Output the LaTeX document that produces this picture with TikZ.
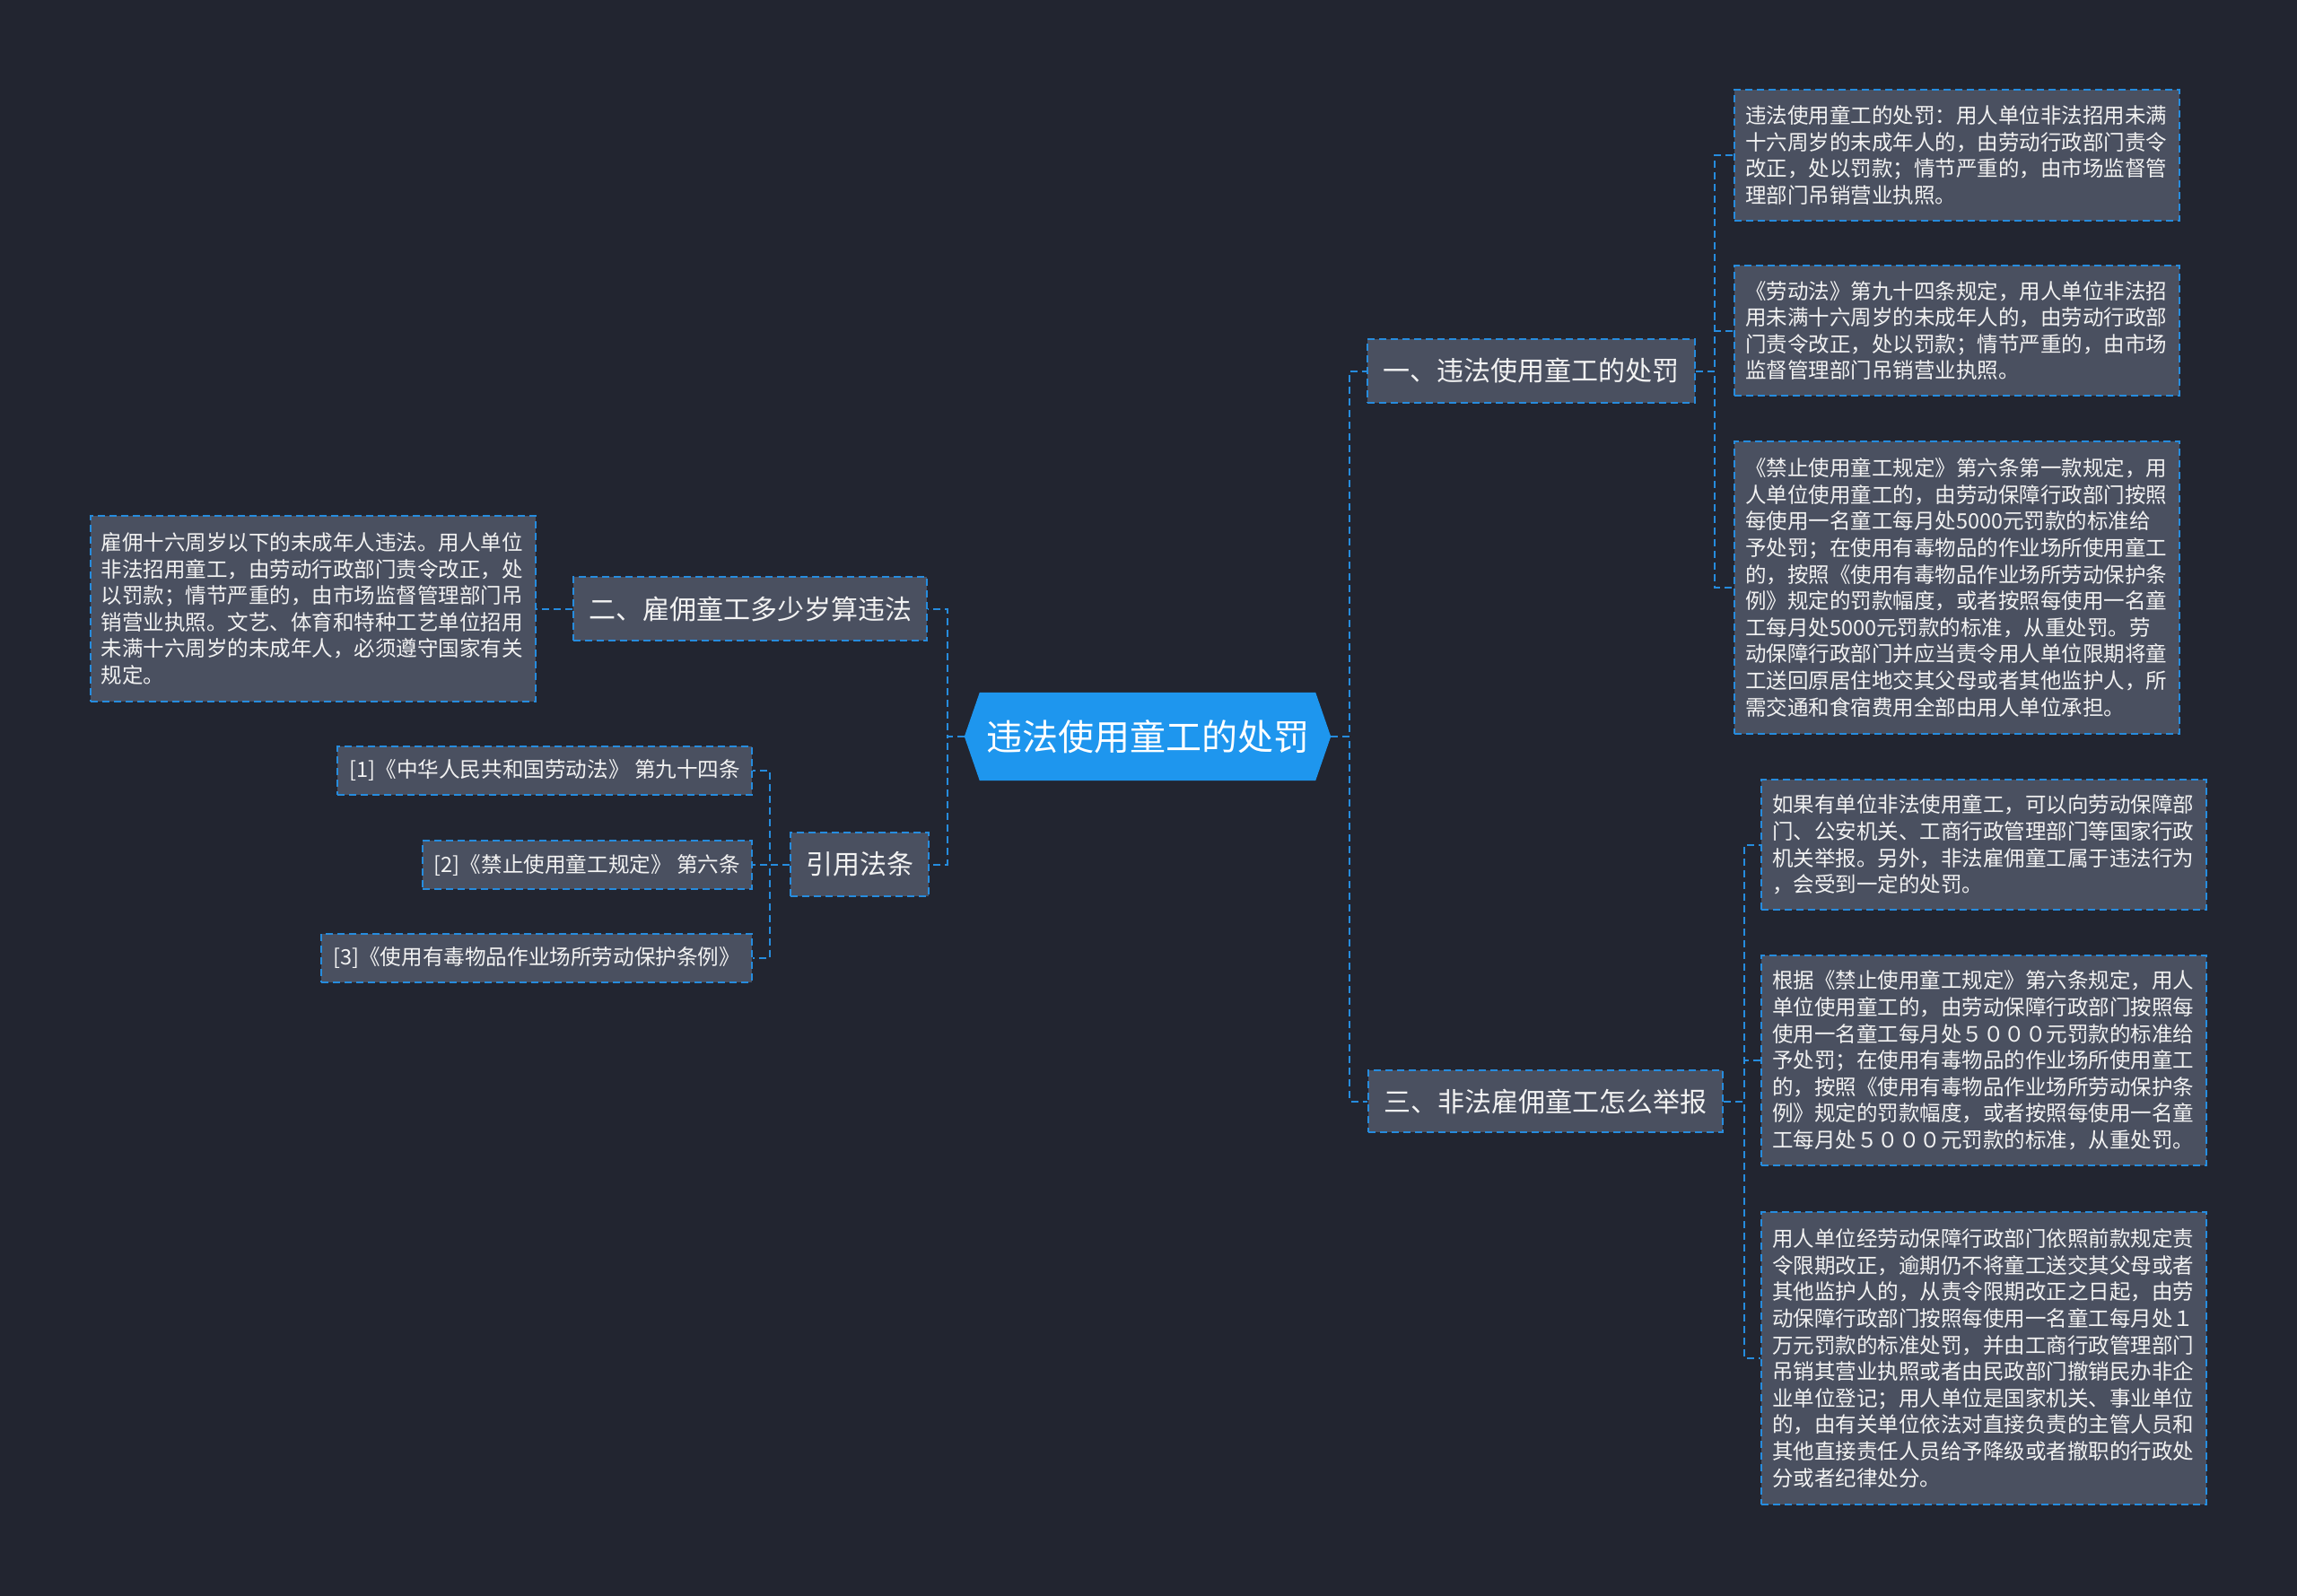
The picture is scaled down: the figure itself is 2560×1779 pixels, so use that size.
\documentclass[tikz,border=0pt]{standalone}
\usepackage{fontspec}
\setmainfont{Noto Sans CJK SC}
\usetikzlibrary{calc}
\definecolor{pagebg}{RGB}{34,37,48}
\definecolor{boxfill}{RGB}{74,80,96}
\definecolor{dashblue}{RGB}{38,140,222}
\definecolor{hubblue}{RGB}{30,150,238}
\definecolor{txt}{RGB}{242,242,242}
\pgfdeclarelayer{bg}
\pgfsetlayers{bg,main}
\tikzset{
  boxbase/.style={draw=dashblue, fill=boxfill, line width=2pt, dash pattern=on 8pt off 5pt, text=txt, inner sep=0pt},
  branchbox/.style={boxbase, font=\fontsize{30}{36}\selectfont, minimum height=71pt, inner xsep=17pt},
  wideleaf/.style={boxbase, align=left, inner xsep=12pt, font=\fontsize{23.5}{29.6}\selectfont, text width=472pt},
  refbox/.style={boxbase, anchor=east, inner xsep=13pt, minimum height=54pt, font=\fontsize{23.6}{28}\selectfont},
  hub/.style={text=white, font=\fontsize{40}{48}\selectfont, minimum width=408pt, minimum height=98pt, inner sep=0pt},
  conn/.style={draw=dashblue, line width=2pt, dash pattern=on 8pt off 5pt}
}
\begin{document}
\begin{tikzpicture}[x=1pt,y=-1pt]
\useasboundingbox (0,0) rectangle (2560,1779);
% centre
\node[hub] (c) at (1279,821) {违法使用童工的处罚};
% branches
\node[branchbox, minimum width=365pt] (b1) at (1706.5,413.5) {一、违法使用童工的处罚};
\node[branchbox, minimum width=394pt] (b2) at (836,678.5) {二、雇佣童工多少岁算违法};
\node[branchbox, minimum width=152pt] (b3) at (958,963.5) {引用法条};
\node[branchbox, minimum width=395pt, minimum height=69pt] (b4) at (1722.5,1227.5) {三、非法雇佣童工怎么举报};
% leaves of b1
\node[wideleaf, minimum height=146pt] (l1) at (2181,173) {违法使用童工的处罚：用人单位非法招用未满\\十六周岁的未成年人的，由劳动行政部门责令\\改正，处以罚款；情节严重的，由市场监督管\\理部门吊销营业执照。};
\node[wideleaf, minimum height=145pt] (l2) at (2181,368.5) {《劳动法》第九十四条规定，用人单位非法招\\用未满十六周岁的未成年人的，由劳动行政部\\门责令改正，处以罚款；情节严重的，由市场\\监督管理部门吊销营业执照。};
\node[wideleaf, minimum height=326pt] (l3) at (2181,655) {《禁止使用童工规定》第六条第一款规定，用\\人单位使用童工的，由劳动保障行政部门按照\\每使用一名童工每月处5000元罚款的标准给\\予处罚；在使用有毒物品的作业场所使用童工\\的，按照《使用有毒物品作业场所劳动保护条\\例》规定的罚款幅度，或者按照每使用一名童\\工每月处5000元罚款的标准，从重处罚。劳\\动保障行政部门并应当责令用人单位限期将童\\工送回原居住地交其父母或者其他监护人，所\\需交通和食宿费用全部由用人单位承担。};
% leaf of b2
\node[wideleaf, minimum height=207pt] (k) at (348.5,678.5) {雇佣十六周岁以下的未成年人违法。用人单位\\非法招用童工，由劳动行政部门责令改正，处\\以罚款；情节严重的，由市场监督管理部门吊\\销营业执照。文艺、体育和特种工艺单位招用\\未满十六周岁的未成年人，必须遵守国家有关\\规定。};
% leaves of b3
\node[refbox] (r1) at (839,859) {[1]《中华人民共和国劳动法》 第九十四条};
\node[refbox] (r2) at (839,964) {[2]《禁止使用童工规定》 第六条};
\node[refbox] (r3) at (839,1067.5) {[3]《使用有毒物品作业场所劳动保护条例》};
% leaves of b4
\node[wideleaf, minimum height=145pt] (m1) at (2211,941.5) {如果有单位非法使用童工，可以向劳动保障部\\门、公安机关、工商行政管理部门等国家行政\\机关举报。另外，非法雇佣童工属于违法行为\\，会受到一定的处罚。};
\node[wideleaf, minimum height=234pt] (m2) at (2211,1182) {根据《禁止使用童工规定》第六条规定，用人\\单位使用童工的，由劳动保障行政部门按照每\\使用一名童工每月处５０００元罚款的标准给\\予处罚；在使用有毒物品的作业场所使用童工\\的，按照《使用有毒物品作业场所劳动保护条\\例》规定的罚款幅度，或者按照每使用一名童\\工每月处５０００元罚款的标准，从重处罚。};
\node[wideleaf, minimum height=326pt] (m3) at (2211,1514) {用人单位经劳动保障行政部门依照前款规定责\\令限期改正，逾期仍不将童工送交其父母或者\\其他监护人的，从责令限期改正之日起，由劳\\动保障行政部门按照每使用一名童工每月处１\\万元罚款的标准处罚，并由工商行政管理部门\\吊销其营业执照或者由民政部门撤销民办非企\\业单位登记；用人单位是国家机关、事业单位\\的，由有关单位依法对直接负责的主管人员和\\其他直接责任人员给予降级或者撤职的行政处\\分或者纪律处分。};
% background layer
\begin{pgfonlayer}{bg}
  \fill[pagebg] (0,0) rectangle (2560,1779);
  \fill[hubblue] (c.west) -- ([xshift=17pt]c.north west) -- ([xshift=-17pt]c.north east) -- (c.east) -- ([xshift=-17pt]c.south east) -- ([xshift=17pt]c.south west) -- cycle;
  % connectors
  \draw[conn] (c.east) -- ++(21,0) |- (b1.west);
  \draw[conn] (c.east) -- ++(21,0) |- (b4.west);
  \draw[conn] (c.west) -- ++(-19,0) |- (b2.east);
  \draw[conn] (c.west) -- ++(-19,0) |- (b3.east);
  \draw[conn] (b1.east) -- ++(21,0) |- (l1.west);
  \draw[conn] (b1.east) -- ++(21,0) |- (l2.west);
  \draw[conn] (b1.east) -- ++(21,0) |- (l3.west);
  \draw[conn] (b2.west) -- (k.east);
  \draw[conn] (b3.west) -- ++(-22,0) |- (r1.east);
  \draw[conn] (b3.west) -- ++(-22,0) |- (r2.east);
  \draw[conn] (b3.west) -- ++(-22,0) |- (r3.east);
  \draw[conn] (b4.east) -- ++(23,0) |- (m1.west);
  \draw[conn] (b4.east) -- ++(23,0) |- (m2.west);
  \draw[conn] (b4.east) -- ++(23,0) |- (m3.west);
\end{pgfonlayer}
\end{tikzpicture}
\end{document}
